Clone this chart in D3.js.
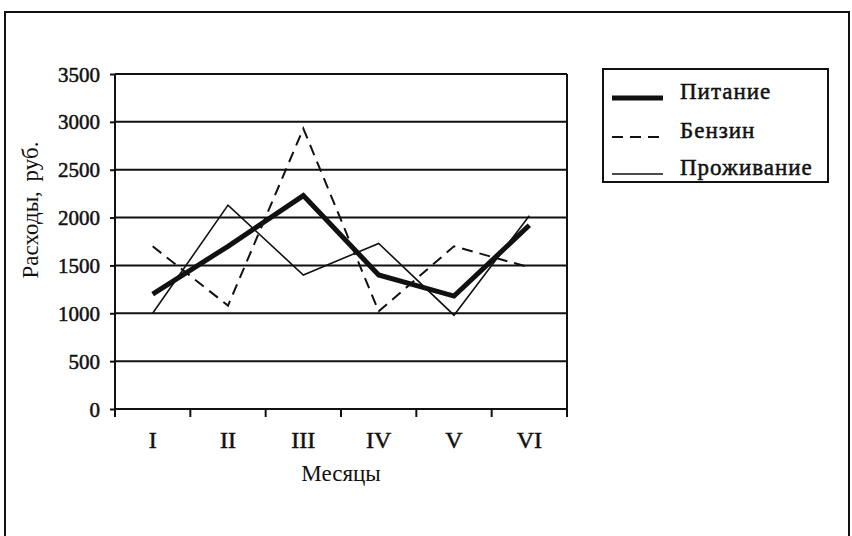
<!DOCTYPE html>
<html><head><meta charset="utf-8">
<script src="https://cdn.jsdelivr.net/npm/d3@7"></script>
<style>
body{margin:0;background:#fff;}
svg{display:block;}
text{font-family:"Liberation Serif","Times New Roman",serif;fill:#111;}
.bold{stroke:#111;stroke-width:0.5px;}
</style></head>
<body><svg id="c" width="852" height="536"></svg>
<script>
const months = ["I","II","III","IV","V","VI"];
const pitanie = [1200,1700,2230,1400,1180,1920];
const benzin = [1700,1080,2930,1020,1700,1480];
const prozhivanie = [1000,2130,1400,1730,980,2020];
const yTicks = [0,500,1000,1500,2000,2500,3000,3500];
const seriesNames = ["Питание","Бензин","Проживание"];

const svg = d3.select("#c");
const L=115,R=567,T=74,B=409;
const x = d3.scaleBand().domain(months).range([L,R]);
const y = d3.scaleLinear().domain([0,3500]).range([B,T]);
const cx = d => x(d)+x.bandwidth()/2;
const FONT = '"Liberation Serif","Times New Roman",serif';

// outer frame
svg.append("rect").attr("x",5).attr("y",12).attr("width",844).attr("height",540)
  .attr("fill","none").attr("stroke","#111").attr("stroke-width",2);

// gridlines
svg.append("g").selectAll("line").data(yTicks.filter(v=>v>0)).join("line")
  .attr("x1",L).attr("x2",R).attr("y1",d=>y(d)).attr("y2",d=>y(d))
  .attr("stroke","#111").attr("stroke-width",2);
// right border
svg.append("line").attr("x1",R).attr("x2",R).attr("y1",T).attr("y2",B)
  .attr("stroke","#111").attr("stroke-width",2);

// y axis
const ya = svg.append("g").attr("transform",`translate(${L},0)`)
  .call(d3.axisLeft(y).tickValues(yTicks).tickFormat(d3.format("d")).tickSize(5).tickPadding(10));
ya.attr("font-family",FONT);
ya.select(".domain").attr("stroke","#111").attr("stroke-width",2).attr("d",`M0,${T}V${B}`);
ya.selectAll(".tick line").attr("stroke","#111").attr("stroke-width",2);
ya.selectAll(".tick text").attr("class","bold").style("font-size","21px")
  .attr("fill","#111").attr("dy","0.34em");

// x axis
const xa = svg.append("g").attr("transform",`translate(0,${B})`)
  .call(d3.axisBottom(x).tickSize(0).tickPadding(22));
xa.attr("font-family",FONT);
xa.select(".domain").attr("stroke","#111").attr("stroke-width",2).attr("d",`M${L},0H${R}`);
xa.selectAll(".tick text").attr("class","bold").style("font-size","24px").attr("fill","#111");
svg.append("g").selectAll("line").data(months.map(m=>x(m)).concat([R])).join("line")
  .attr("x1",d=>d).attr("x2",d=>d).attr("y1",B).attr("y2",B+8)
  .attr("stroke","#111").attr("stroke-width",2);

// axis titles
svg.append("text").attr("x",(L+R)/2).attr("y",481).attr("text-anchor","middle")
  .style("font-size","23px").text("Месяцы");
svg.append("text").attr("transform","translate(38,210) rotate(-90)").attr("text-anchor","middle")
  .style("font-size","23px").style("word-spacing","4px").text("Расходы, руб.");

// lines
const line = d3.line().x((d,i)=>cx(months[i])).y(d=>y(d));
svg.append("path").datum(prozhivanie).attr("d",line).attr("fill","none")
  .attr("stroke","#111").attr("stroke-width",1.6);
svg.append("path").datum(benzin).attr("d",line).attr("fill","none")
  .attr("stroke","#111").attr("stroke-width",2).attr("stroke-dasharray","11,7");
svg.append("path").datum(pitanie).attr("d",line).attr("fill","none")
  .attr("stroke","#111").attr("stroke-width",5);

// legend
svg.append("rect").attr("x",603).attr("y",69).attr("width",225).attr("height",113)
  .attr("fill","#fff").attr("stroke","#111").attr("stroke-width",2);
const legY=[98,137,174];
const legStyle=[{w:5,d:null},{w:2,d:"11,7"},{w:1.6,d:null}];
seriesNames.forEach((n,i)=>{
  svg.append("line").attr("x1",612).attr("x2",663).attr("y1",legY[i]).attr("y2",legY[i])
    .attr("stroke","#111").attr("stroke-width",legStyle[i].w)
    .attr("stroke-dasharray",legStyle[i].d);
  svg.append("text").attr("class","bold").attr("x",680).attr("y",legY[i]+1)
    .style("font-size","23px").style("letter-spacing","1px").text(n);
});
</script></body></html>
